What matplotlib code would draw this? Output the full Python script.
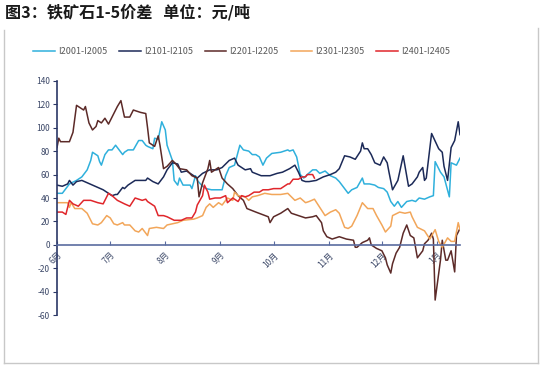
import matplotlib
matplotlib.use('agg')
import matplotlib.pyplot as plt
from matplotlib.lines import Line2D

plt.rcParams['font.family'] = ['Noto Sans CJK SC', 'DejaVu Sans']
plt.rcParams['axes.unicode_minus'] = False

# x values are days counted from 1 June
month_days = [0, 30, 61, 92, 122, 153, 183, 214]
month_labels = ['6月', '7月', '8月', '9月', '10月', '11月', '12月', '1月']

# I2001-I2005
d_2001 = [0, 3, 5, 7, 11, 14, 17, 19, 20, 23, 24, 25, 27, 29, 31, 33, 34, 37, 38, 40,
          43, 46, 48, 50, 51, 54, 55, 57, 59, 61, 62, 65, 66, 68, 69, 71, 75, 76, 78, 79,
          82, 84, 87, 90, 93, 95, 97, 100, 103, 105, 108, 110, 112, 114, 116, 118, 121, 126, 130, 131,
          133, 135, 137, 139, 141, 144, 146, 148, 151, 154, 157, 159, 162, 164, 166, 169, 172, 173, 176, 179,
          181, 184, 186, 188, 190, 192, 194, 197, 200, 202, 204, 207, 210, 212, 213, 216, 218, 221, 222, 225, 227]
v_2001 = [44, 44, 48, 52, 55, 58, 64, 72, 79, 76, 71, 68, 77, 81, 81, 85, 83, 77, 79, 81,
          81, 89, 89, 85, 84, 82, 91, 90, 105, 98, 85, 72, 55, 51, 57, 51, 51, 48, 59, 55,
          50, 48, 47, 47, 47, 59, 66, 68, 85, 81, 80, 77, 77, 75, 68, 74, 78, 79, 81, 80,
          81, 75, 60, 57, 60, 64, 64, 61, 63, 59, 57, 54, 48, 44, 47, 49, 57, 52, 52, 51,
          49, 48, 45, 37, 33, 37, 32, 37, 38, 37, 40, 39, 41, 42, 71, 62, 58, 41, 70, 68, 74]

# I2101-I2105
d_2101 = [0, 3, 6, 7, 9, 11, 14, 17, 20, 23, 26, 29, 31, 33, 34, 37, 38, 40, 44, 50,
          51, 54, 57, 60, 62, 65, 68, 70, 73, 77, 79, 82, 86, 90, 93, 97, 100, 102, 106, 109,
          110, 115, 120, 124, 127, 131, 134, 136, 138, 140, 142, 146, 150, 154, 157, 159, 162, 165, 168, 171,
          172, 173, 175, 177, 179, 182, 184, 186, 187, 189, 192, 195, 198, 200, 203, 204, 206, 207, 208, 211,
          215, 217, 218, 220, 222, 224, 226, 227]
v_2101 = [51, 50, 52, 55, 51, 54, 55, 53, 51, 49, 47, 44, 42, 43, 43, 49, 48, 51, 55, 55,
          57, 54, 52, 58, 64, 70, 69, 62, 63, 59, 57, 61, 64, 64, 66, 72, 74, 68, 64, 65,
          62, 59, 59, 61, 62, 65, 68, 62, 55, 54, 54, 55, 58, 60, 62, 65, 76, 75, 73, 80,
          87, 82, 82, 77, 70, 68, 75, 70, 62, 47, 55, 76, 50, 52, 58, 62, 66, 55, 57, 95,
          82, 79, 67, 55, 83, 89, 105, 94]

# I2201-I2205
d_2201 = [0, 1, 2, 4, 7, 9, 11, 13, 15, 16, 18, 20, 22, 23, 25, 27, 29, 31, 34, 36,
          38, 41, 43, 47, 50, 51, 52, 54, 55, 57, 58, 60, 62, 65, 67, 69, 73, 76, 79, 80,
          82, 85, 86, 87, 90, 91, 93, 96, 99, 102, 105, 107, 112, 119, 120, 122, 126, 130, 132, 136,
          140, 144, 146, 149, 150, 152, 155, 159, 163, 167, 168, 169, 172, 175, 176, 177, 180, 183, 185, 186,
          188, 189, 191, 193, 195, 197, 199, 201, 203, 206, 207, 209, 211, 212, 213, 216, 217, 219, 220, 222,
          224, 225, 227]
v_2201 = [83, 91, 88, 88, 88, 96, 119, 117, 115, 118, 104, 98, 101, 106, 104, 108, 103, 109, 118, 123,
          109, 109, 115, 113, 112, 100, 87, 85, 84, 93, 85, 65, 67, 72, 69, 65, 64, 59, 57, 41,
          53, 65, 72, 62, 65, 66, 57, 52, 48, 42, 38, 31, 28, 24, 19, 24, 27, 31, 27, 25,
          23, 24, 25, 19, 12, 7, 5, 7, 5, 4, -2, -2, 2, 4, 6, 0, -3, -5, -11, -17,
          -24, -16, -7, -2, 10, 17, 8, 6, -11, -5, 1, 4, 10, 5, -47, -13, 4, -13, -13, -5,
          -23, 8, 14]

# I2301-I2305
d_2301 = [0, 6, 7, 8, 10, 14, 17, 19, 20, 23, 25, 28, 30, 32, 34, 37, 38, 41, 44, 46,
          48, 50, 51, 52, 56, 60, 62, 65, 68, 71, 77, 79, 82, 84, 86, 88, 91, 93, 96, 99,
          100, 102, 106, 108, 110, 113, 117, 121, 126, 130, 132, 134, 137, 140, 142, 145, 148, 151, 154, 157,
          159, 162, 164, 166, 169, 172, 175, 178, 180, 183, 185, 188, 189, 193, 196, 199, 200, 203, 207, 210,
          213, 215, 217, 220, 222, 224, 226, 227]
v_2301 = [36, 36, 32, 36, 31, 31, 27, 21, 18, 17, 19, 25, 23, 18, 17, 19, 17, 17, 12, 11,
          14, 10, 8, 14, 15, 14, 17, 18, 19, 21, 22, 23, 25, 32, 35, 32, 36, 34, 40, 38,
          45, 42, 41, 38, 41, 42, 44, 43, 43, 44, 41, 38, 40, 36, 37, 39, 32, 25, 28, 30,
          27, 15, 14, 16, 25, 36, 31, 31, 25, 17, 11, 16, 25, 28, 27, 28, 24, 15, 12, 5,
          13, 3, -2, 6, 3, 3, 19, 13]

# I2401-I2405
d_2401 = [0, 3, 5, 7, 9, 12, 15, 19, 23, 26, 29, 31, 34, 38, 41, 44, 46, 48, 50, 51,
          53, 55, 57, 60, 62, 66, 70, 73, 76, 78, 79, 82, 83, 85, 86, 89, 92, 95, 96, 99,
          102, 104, 106, 108, 110, 111, 114, 116, 119, 122, 126, 130, 131, 133, 136, 138, 140, 141, 144, 145]
v_2401 = [28, 28, 26, 38, 35, 33, 38, 38, 36, 35, 44, 42, 38, 35, 33, 40, 39, 38, 39, 37,
          35, 33, 25, 25, 24, 21, 21, 23, 23, 28, 34, 42, 51, 45, 39, 40, 40, 42, 36, 40,
          37, 42, 41, 42, 44, 45, 45, 47, 47, 48, 48, 52, 52, 56, 56, 58, 58, 60, 60, 57]

series = [
    ('I2001-I2005', d_2001, v_2001, '#2fb0dc'),
    ('I2101-I2105', d_2101, v_2101, '#1c2a58'),
    ('I2201-I2205', d_2201, v_2201, '#5c2a28'),
    ('I2301-I2305', d_2301, v_2301, '#f2a65a'),
    ('I2401-I2405', d_2401, v_2401, '#e0262b'),
]

fig = plt.figure(figsize=(5.41, 3.66), dpi=100)
ax = fig.add_axes([57/541, 1-315.3/366, 403/541, (315.3-80.7)/366])

for name, d, v, c in series:
    ax.plot(d, v, color=c, lw=1.1, label=name)

ax.set_xlim(0, 227)
ax.set_ylim(-60, 140)
ax.set_yticks(range(-60, 141, 20))
ax.set_xticks(month_days)
ax.set_xticklabels(month_labels)

axis_col = '#2b3766'
ax.spines['top'].set_visible(False)
ax.spines['right'].set_visible(False)
ax.spines['left'].set_color(axis_col)
ax.spines['left'].set_linewidth(1.2)
ax.spines['bottom'].set_position(('data', 0))
ax.spines['bottom'].set_color('#5a6ca0')
ax.spines['bottom'].set_linewidth(1.2)
ax.tick_params(axis='y', direction='out', length=3, color=axis_col, labelsize=6, labelcolor='#3c4868', pad=2)
ax.tick_params(axis='x', direction='in', length=3, color='#5a6ca0', labelsize=6, labelcolor='#3c4868', pad=4)
for lab in ax.get_xticklabels():
    lab.set_rotation(45)
    lab.set_ha('right')
    lab.set_va('top')
    lab.set_rotation_mode('anchor')

leg = ax.legend(loc='center', bbox_to_anchor=(0.447, 1 - 52/366), bbox_transform=fig.transFigure,
                ncol=5, frameon=False, fontsize=6.5, handlelength=2.4, handletextpad=0.35,
                columnspacing=1.3, labelcolor='#595959')

fig.text(5/541, 1 - 12/366, '图3：铁矿石1-5价差   单位：元/吨', fontsize=11.6, fontweight='bold',
         va='center', ha='left', color='#1a1a1a')

# light grey frame round the chart
fig.add_artist(Line2D([4/541, 4/541], [1 - 363/366, 1 - 30/366], color='#c8c8c8', lw=1))
fig.add_artist(Line2D([538/541, 538/541], [1 - 363/366, 1 - 28/366], color='#c8c8c8', lw=1))
fig.add_artist(Line2D([4/541, 538/541], [1 - 363/366, 1 - 363/366], color='#c8c8c8', lw=1))

fig.savefig('out.png', dpi=100)
